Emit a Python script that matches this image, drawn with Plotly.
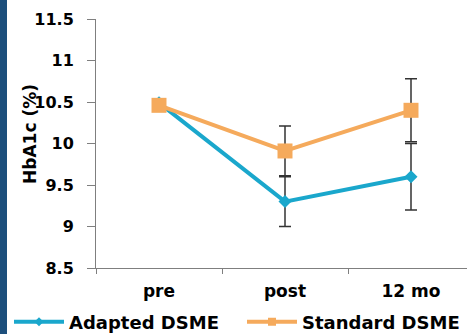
import plotly.graph_objects as go

categories = ["pre", "post", "12 mo"]
adapted = [10.49, 9.30, 9.60]
adapted_err = [0.0, 0.30, 0.40]
standard = [10.46, 9.91, 10.40]
standard_err = [0.0, 0.30, 0.38]
y_ticks = [8.5, 9, 9.5, 10, 10.5, 11, 11.5]
y_tick_text = ["8.5", "9", "9.5", "10", "10.5", "11", "11.5"]
series_names = ["Adapted DSME", "Standard DSME"]
y_title = "HbA1c (%)"

W, H = 467, 334
L, R, T, B = 96, 0, 19, 66
pw, ph = W - L - R, H - T - B

FONT = "DejaVu Sans"
BLUE = "#1aa7cc"
ORANGE = "#f5aa5c"
AXIS = "#7f7f7f"

fig = go.Figure()
fig.add_trace(go.Scatter(
    x=categories, y=adapted, name=series_names[0], mode="lines+markers",
    line=dict(color=BLUE, width=4),
    marker=dict(symbol="diamond", size=10, color=BLUE),
    error_y=dict(type="data", array=adapted_err, color="#333333", thickness=1.5, width=6),
    showlegend=False,
))
fig.add_trace(go.Scatter(
    x=categories, y=standard, name=series_names[1], mode="lines+markers",
    line=dict(color=ORANGE, width=4),
    marker=dict(symbol="square", size=15, color=ORANGE),
    error_y=dict(type="data", array=standard_err, color="#333333", thickness=1.5, width=6),
    showlegend=False,
))
# legend entries (smaller symbols, as in the reference)
fig.add_trace(go.Scatter(
    x=[None], y=[None], name=series_names[0], mode="lines+markers",
    line=dict(color=BLUE, width=4), marker=dict(symbol="diamond", size=7, color=BLUE),
    legend="legend", showlegend=True,
))
fig.add_trace(go.Scatter(
    x=[None], y=[None], name=series_names[1], mode="lines+markers",
    line=dict(color=ORANGE, width=4), marker=dict(symbol="square", size=8, color=ORANGE),
    legend="legend2", showlegend=True,
))

fig.add_shape(type="rect", xref="paper", yref="paper",
              x0=-L / pw, x1=(7 - L) / pw, y0=-B / ph - 0.01, y1=1 + T / ph + 0.01,
              fillcolor="#1d4f7c", line=dict(width=0), layer="above")

# rotated y-axis title
fig.add_annotation(
    text=y_title, textangle=-90, showarrow=False,
    xref="paper", yref="paper", x=(30 - L) / pw, y=(H - B - 134) / ph,
    xanchor="center", yanchor="middle",
    font=dict(family=FONT, size=17, color="black", weight="bold"),
)

legend_common = dict(
    orientation="h", xref="container", xanchor="left",
    y=(H - 322) / H, yref="container", yanchor="middle",
    font=dict(family=FONT, size=18, color="black", weight="bold"),
    itemwidth=50, bgcolor="rgba(0,0,0,0)", borderwidth=0,
)

fig.update_layout(
    width=W, height=H,
    margin=dict(l=L, r=R, t=T, b=B, pad=0, autoexpand=False),
    paper_bgcolor="white", plot_bgcolor="white",
    font=dict(family=FONT, size=16, color="black", weight="bold"),
    showlegend=True,
    legend=dict(x=9 / W, **legend_common),
    legend2=dict(x=242 / W, **legend_common),
    xaxis=dict(
        type="category", range=[-0.5, -0.5 + pw / 126.0],
        tickson="boundaries", ticks="outside", ticklen=5, tickcolor=AXIS,
        showline=True, linecolor=AXIS, linewidth=1, showgrid=False,
        tickfont=dict(family=FONT, size=17, color="black", weight="bold"),
        ticklabelstandoff=8, fixedrange=True,
    ),
    yaxis=dict(
        range=[8.5, 11.5], tickvals=y_ticks, ticktext=y_tick_text,
        ticks="outside", ticklen=8, tickcolor=AXIS,
        showline=True, linecolor=AXIS, linewidth=1, showgrid=False, zeroline=False,
        tickfont=dict(family=FONT, size=16, color="black", weight="bold"),
        ticklabelstandoff=10, fixedrange=True,
    ),
)

fig.write_html(
    "out.html",
    config={"displayModeBar": False},
    post_script="document.body.style.margin='0';document.body.style.padding='0';"
                "document.body.style.overflow='hidden';",
)
